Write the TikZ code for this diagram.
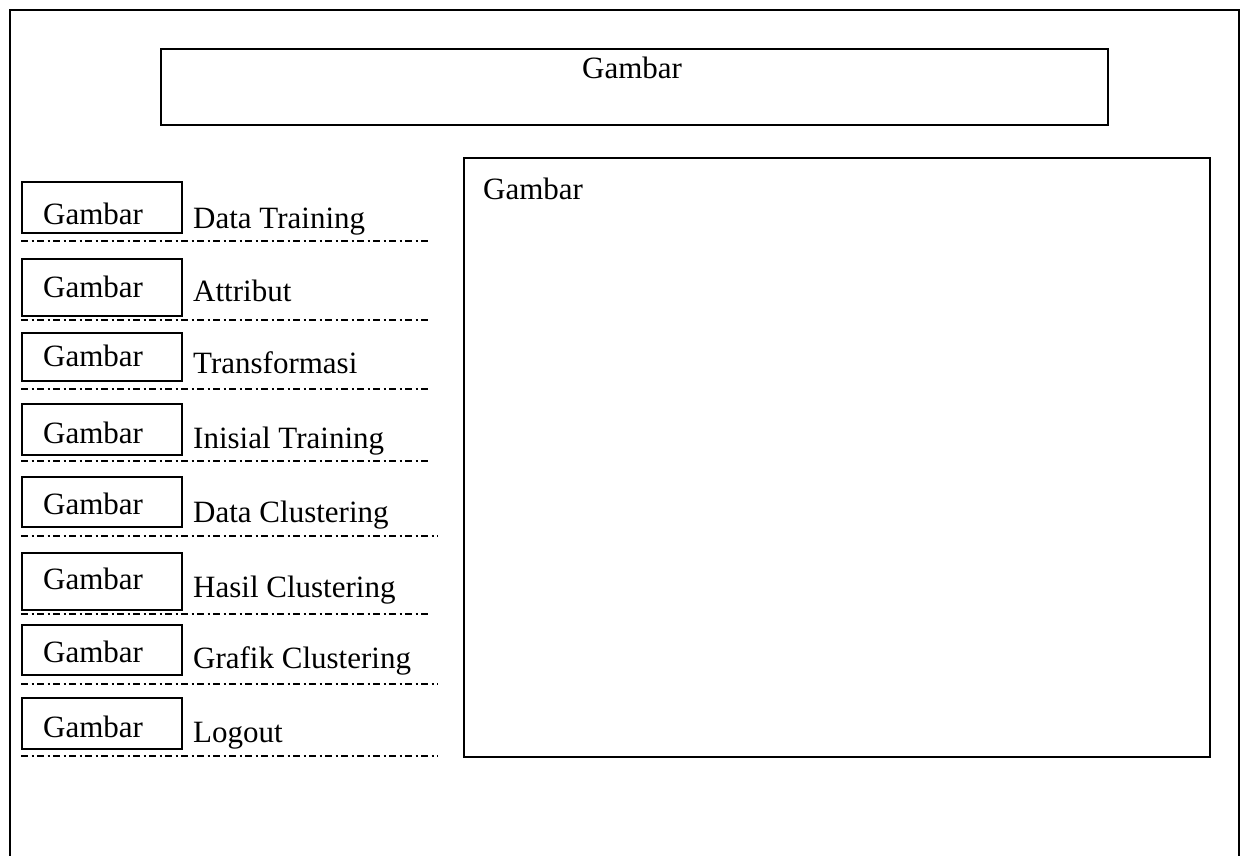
\documentclass[tikz,border=0pt]{standalone}
\usepackage{fontspec}
\setmainfont{Liberation Serif}
\begin{document}
\begin{tikzpicture}[x=1pt,y=-1pt,
  frame/.style={line width=2pt},
  thickbox/.style={draw,line width=2.4pt,rectangle,inner sep=0pt,anchor=north west},
  panelbox/.style={draw,line width=2pt,rectangle,inner sep=0pt,anchor=north west},
  iconbox/.style={draw,line width=1.5pt,rectangle,inner sep=0pt,anchor=north west,minimum width=160pt},
  txt/.style={inner sep=0pt,anchor=base west,font=\fontsize{31}{37}\selectfont},
  sep/.style={line width=1.4pt,dash pattern=on 7pt off 3.5pt on 2pt off 3.5pt}]
\useasboundingbox (0,0) rectangle (1245,855);
% outer frame, open at the bottom
\coordinate (fbl) at (10,860);
\coordinate (ftl) at (10,10);
\coordinate (ftr) at (1239,10);
\coordinate (fbr) at (1239,860);
\draw[frame] (fbl) -- (ftl) -- (ftr) -- (fbr);
% header
\node[thickbox,minimum width=947pt,minimum height=76pt] (header) at (160,48) {};
\node[txt] (headertxt) at (582,78) {Gambar};
% content panel
\node[panelbox,minimum width=746pt,minimum height=599pt] (panel) at (463,157) {};
\node[txt] (paneltxt) at (483,199) {Gambar};
% menu entries: top, height, icon baseline, label baseline, rule y, rule end
\foreach \i/\t/\h/\gb/\lb/\ry/\re/\lab in {
  1/181/51/224/228/241/430/{Data Training},
  2/258/57/297/301/320/430/{Attribut},
  3/332/48/366/373/389/430/{Transformasi},
  4/403/51/443/448/461/430/{Inisial Training},
  5/476/50/514/522/536/438/{Data Clustering},
  6/552/57/589/597/614/430/{Hasil Clustering},
  7/624/50/662/668/684/438/{Grafik Clustering},
  8/697/51/737/742/756/438/{Logout}}{
  \node[iconbox,minimum height=\h pt] (icon\i) at (21,\t) {};
  \node[txt] (icontxt\i) at (43,\gb) {Gambar};
  \node[txt] (label\i) at (193,\lb) {\lab};
  \coordinate (rs\i) at (21,\ry);
  \coordinate (re\i) at (\re,\ry);
  \draw[sep] (rs\i) -- (re\i);
}
\end{tikzpicture}
\end{document}
